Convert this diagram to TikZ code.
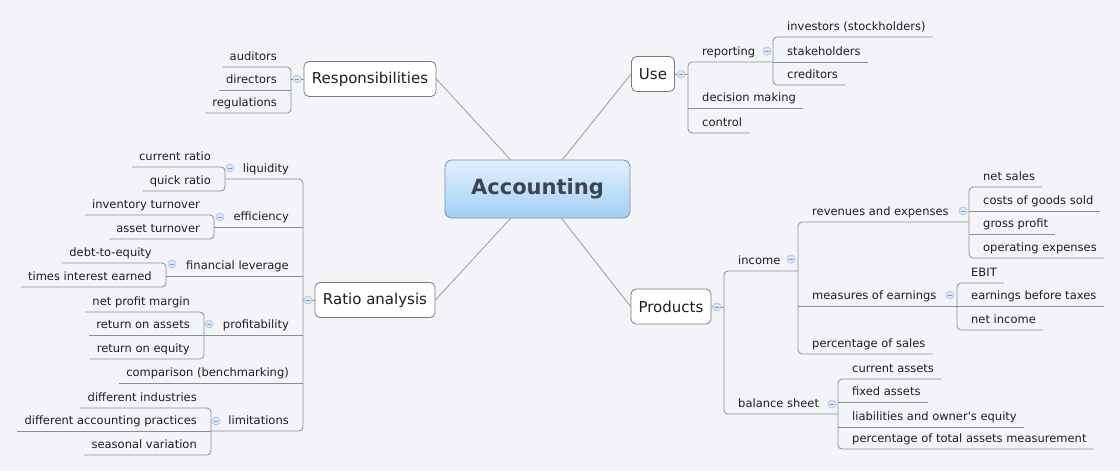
\documentclass[tikz,border=0pt]{standalone}
\usepackage{fontspec}
\setmainfont{DejaVu Sans}
\usetikzlibrary{calc}
\definecolor{bg}{HTML}{F3F4F8}
\definecolor{linegray}{HTML}{8E8E8E}
\definecolor{mainline}{HTML}{9A9A9A}
\definecolor{txt}{HTML}{1E1E1E}
\definecolor{boxborder}{HTML}{7A7A7A}
\definecolor{acctop}{HTML}{E2F0FE}
\definecolor{accbot}{HTML}{A2CFF6}
\definecolor{accborder}{HTML}{7C8FA8}
\definecolor{acctxt}{HTML}{3C4450}
\definecolor{btnfill}{HTML}{DCE7F5}
\definecolor{btnedge}{HTML}{A9C1E0}
\definecolor{btnmin}{HTML}{7C9CCB}
\begin{document}
\begin{tikzpicture}[x=1pt,y=-1pt,
  conn/.style={draw=linegray,line width=0.8pt},
  cconn/.style={conn,rounded corners=4pt},
  mline/.style={draw=mainline,line width=0.8pt},
  leafR/.style={anchor=south west,inner xsep=7pt,inner ysep=4pt,text height=8.5pt,text depth=2.5pt,font=\fontsize{11.5}{13}\selectfont,text=txt},
  leafL/.style={leafR,anchor=south east},
  topic/.style={draw=boxborder,fill=white,rounded corners=5pt,line width=0.8pt,font=\fontsize{15}{18}\selectfont,text=txt,inner sep=0pt,minimum height=35pt},
  btn/.style={circle,draw=btnedge,fill=btnfill,line width=0.6pt,minimum size=8pt,inner sep=0pt,
    path picture={\draw[btnmin,line width=0.8pt] ([xshift=-2.2pt]path picture bounding box.center) -- ([xshift=2.2pt]path picture bounding box.center);}}
]
\fill[bg] (0,0) rectangle (1120,471);
\useasboundingbox (0,0) rectangle (1120,471);

% central
\node[draw=accborder,line width=0.8pt,rounded corners=7pt,top color=acctop,bottom color=accbot,minimum width=185pt,minimum height=58pt,inner sep=0pt,font=\bfseries\fontsize{21}{24}\selectfont,text=acctxt] (acc) at (537.5,189) {Accounting};

% main topics
\node[topic,minimum width=132pt] (resp) at (370,79) {Responsibilities};
\node[topic,minimum width=43pt] (use) at (653,74) {Use};
\node[topic,minimum width=120pt] (ratio) at (375,300) {Ratio analysis};
\node[topic,minimum width=80pt] (prod) at (671,306.5) {Products};

\draw[mline] (resp.east) -- ([xshift=-27pt]acc.north);
\draw[mline] (use.west) -- ([xshift=25pt]acc.north);
\draw[mline] (ratio.east) -- ([xshift=-27pt]acc.south);
\draw[mline] (prod.west) -- ([xshift=24pt]acc.south);

% ---------- Responsibilities
\coordinate (respT) at (291,79);
\node[btn] (respB) at (297,79) {};
\draw[conn] (resp.west) -- (respB.east);
\draw[conn] (respB.west) -- (respT);
\node[leafL] (aud) at (284,67) {auditors};
\node[leafL] (dir) at (284,90) {directors};
\node[leafL] (reg) at (284,113) {regulations};
\draw[cconn] (aud.south west) -| (respT) |- (reg.south west);
\draw[conn] (respT |- dir.south) -- (dir.south west);

% ---------- Use
\coordinate (useT) at (688,74);
\node[btn] (useB) at (681,74) {};
\draw[conn] (use.east) -- (useB.west);
\draw[conn] (useB.east) -- (useT);
\node[leafR] (rep) at (695,62) {reporting};
\node[leafR] (dec) at (695,108) {decision making};
\node[leafR] (ctl) at (695,133) {control};
\coordinate (repT) at (773,62);
\draw[cconn] (repT) -| (useT) |- (ctl.south east);
\draw[conn] (useT |- dec.south) -- (dec.south east);
\node[btn] (repB) at (767,51) {};
\node[leafR] (inv) at (780,37) {investors (stockholders)};
\node[leafR] (stk) at (780,62) {stakeholders};
\node[leafR] (cre) at (780,85) {creditors};
\draw[cconn] (inv.south east) -| (repT) |- (cre.south east);
\draw[conn] (repT) -- (stk.south east);

% ---------- Ratio analysis
\coordinate (ratT) at (303,300);
\node[btn] (ratB) at (308,300) {};
\draw[conn] (ratio.west) -- (ratB.east);
\draw[conn] (ratB.west) -- (ratT);
\node[leafL] (liq) at (296,179) {liquidity};
\node[leafL] (eff) at (296,227) {efficiency};
\node[leafL] (fin) at (296,276) {financial leverage};
\node[leafL] (pro) at (296,335) {profitability};
\node[leafL] (cmp) at (296,383) {comparison (benchmarking)};
\node[leafL] (lim) at (296,431) {limitations};
\coordinate (liqT) at (225,179);
\coordinate (effT) at (214,227);
\coordinate (finT) at (166,276);
\coordinate (proT) at (204,335);
\coordinate (limT) at (211,431);
\node[btn] (liqB) at (230,168) {};
\node[btn] (effB) at (220,217) {};
\node[btn] (finB) at (172,264) {};
\node[btn] (proB) at (209,324) {};
\node[btn] (limB) at (216,421) {};
\draw[cconn] (liqT) -| (ratT) |- (limT);
\draw[conn] (effT) -- (ratT |- effT);
\draw[conn] (finT) -- (ratT |- finT);
\draw[conn] (proT) -- (ratT |- proT);
\draw[conn] (cmp.south west) -- (ratT |- cmp.south);

\node[leafL] (cur) at (218,167) {current ratio};
\node[leafL] (qui) at (218,191) {quick ratio};
\draw[cconn] (cur.south west) -| (liqT) |- (qui.south west);

\node[leafL] (invt) at (207,215) {inventory turnover};
\node[leafL] (ast) at (207,239) {asset turnover};
\draw[cconn] (invt.south west) -| (effT) |- (ast.south west);

\node[leafL] (dte) at (159,263) {debt-to-equity};
\node[leafL] (tie) at (159,287) {times interest earned};
\draw[cconn] (dte.south west) -| (finT) |- (tie.south west);

\node[leafL] (npm) at (197,312) {net profit margin};
\node[leafL] (roa) at (197,335) {return on assets};
\node[leafL] (roe) at (197,359) {return on equity};
\draw[cconn] (npm.south west) -| (proT) |- (roe.south west);
\draw[conn] (proT) -- (roa.south west);

\node[leafL] (dind) at (204,408) {different industries};
\node[leafL] (dacc) at (204,431) {different accounting practices};
\node[leafL] (seas) at (204,455) {seasonal variation};
\draw[cconn] (dind.south west) -| (limT) |- (seas.south west);
\draw[conn] (limT) -- (dacc.south west);

% ---------- Products
\coordinate (prodT) at (724,307);
\node[btn] (prodB) at (717,307) {};
\draw[conn] (prod.east) -- (prodB.west);
\draw[conn] (prodB.east) -- (prodT);
\node[leafR] (inc) at (731,271) {income};
\node[leafR] (bal) at (731,414) {balance sheet};
\coordinate (incT) at (798,271);
\coordinate (balT) at (838,414);
\node[btn] (incB) at (791,259) {};
\node[btn] (balB) at (832,404) {};
\draw[cconn] (incT) -| (prodT) |- (balT);

\node[leafR] (rev) at (805,222) {revenues and expenses};
\node[leafR] (mea) at (805,306) {measures of earnings};
\node[leafR] (pct) at (805,354) {percentage of sales};
\coordinate (revT) at (969,222);
\coordinate (meaT) at (957,306);
\node[btn] (revB) at (963,211) {};
\node[btn] (meaB) at (950,295) {};
\draw[cconn] (revT) -| (incT) |- (pct.south east);
\draw[conn] (incT |- meaT) -- (meaT);

\node[leafR] (ns) at (976,187) {net sales};
\node[leafR] (cogs) at (976,211) {costs of goods sold};
\node[leafR] (gp) at (976,234) {gross profit};
\node[leafR] (opx) at (976,258) {operating expenses};
\draw[cconn] (ns.south east) -| (revT) |- (opx.south east);
\draw[conn] (revT |- cogs.south) -- (cogs.south east);
\draw[conn] (revT |- gp.south) -- (gp.south east);

\node[leafR] (ebit) at (964,283) {EBIT};
\node[leafR] (ebt) at (964,306) {earnings before taxes};
\node[leafR] (ni) at (964,330) {net income};
\draw[cconn] (ebit.south east) -| (meaT) |- (ni.south east);
\draw[conn] (meaT) -- (ebt.south east);

\node[leafR] (ca) at (845,379) {current assets};
\node[leafR] (fa) at (845,402) {fixed assets};
\node[leafR] (loe) at (845,427) {liabilities and owner\textquotesingle s equity};
\node[leafR] (ptam) at (845,449) {percentage of total assets measurement};
\draw[cconn] (ca.south east) -| (balT) |- (ptam.south east);
\draw[conn] (balT |- fa.south) -- (fa.south east);
\draw[conn] (balT |- loe.south) -- (loe.south east);
\end{tikzpicture}
\end{document}
